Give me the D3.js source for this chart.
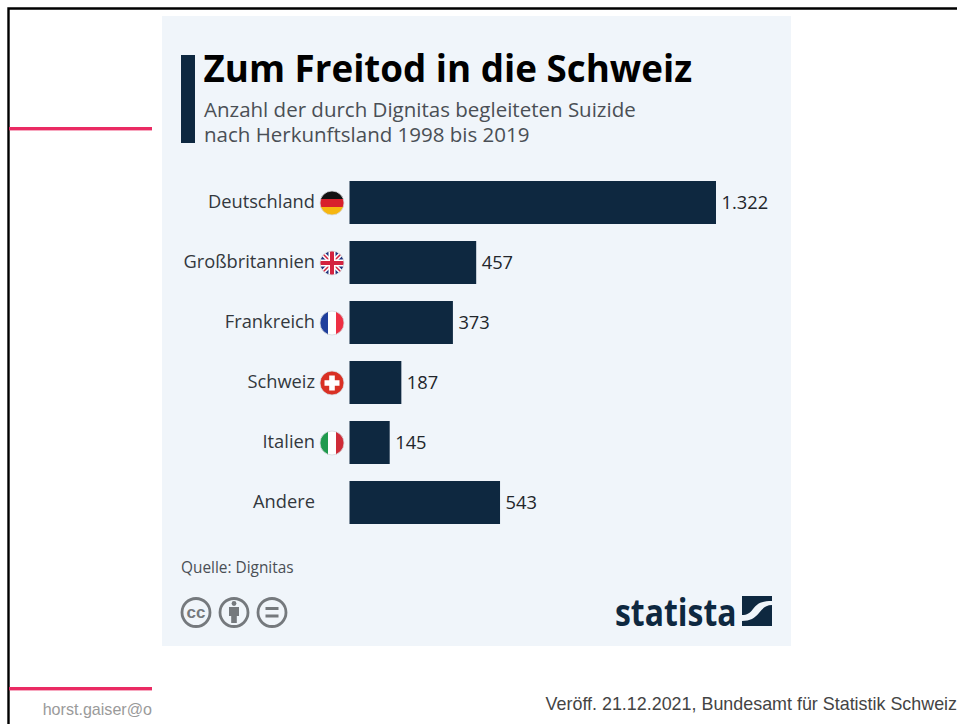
<!DOCTYPE html>
<html lang="de">
<head>
<meta charset="utf-8">
<title>Zum Freitod in die Schweiz</title>
<script src="https://cdn.jsdelivr.net/npm/d3@7"></script>
<style>
html,body{margin:0;padding:0;background:#fff;overflow:hidden}
svg{display:block}
text{font-family:"Open Sans",sans-serif}
</style>
</head>
<body>
<svg id="slide" width="957" height="724"></svg>
<script>
// Chart data
const countries = ["Deutschland", "Großbritannien", "Frankreich", "Schweiz", "Italien", "Andere"];
const cases = [1322, 457, 373, 187, 145, 543];
const valueLabels = ["1.322", "457", "373", "187", "145", "543"];
const flagKinds = ["de", "uk", "fr", "ch", "it", null];

const navy = "#0e2840";
const svg = d3.select("#slide");

// Slide frame
svg.append("rect").attr("width", 957).attr("height", 724).attr("fill", "#fff");
svg.append("path").attr("d", "M0,724V0H957")
  .attr("transform", "translate(8.5,8.5)")
  .attr("fill", "none").attr("stroke", "#000").attr("stroke-width", 2.4);
svg.append("rect").attr("x", 9).attr("y", 127).attr("width", 143).attr("height", 3.4).attr("fill", "#ea2a63");
svg.append("rect").attr("x", 9).attr("y", 687).attr("width", 143).attr("height", 3.4).attr("fill", "#ea2a63");
svg.append("text").attr("x", 152).attr("y", 715).attr("text-anchor", "end")
  .style("font-family", "Liberation Sans").style("font-size", "16.1px").attr("fill", "#9a9a9a").text("horst.gaiser@o");
svg.append("text").attr("x", 957).attr("y", 710).attr("text-anchor", "end")
  .style("font-family", "Liberation Sans").style("font-size", "17.9px").attr("fill", "#444").text("Veröff. 21.12.2021, Bundesamt für Statistik Schweiz");

// Card
svg.append("rect").attr("x", 162).attr("y", 16).attr("width", 629).attr("height", 630).attr("fill", "#f0f5fa");

// Heading
svg.append("rect").attr("x", 181).attr("y", 55).attr("width", 14).attr("height", 88).attr("fill", navy);
svg.append("text").attr("x", 203.5).attr("y", 81.5).style("font-size", "36.75px").style("font-weight", 700)
  .attr("fill", "#000").text("Zum Freitod in die Schweiz");
svg.append("text").attr("x", 204).attr("y", 117).style("font-size", "20.5px").attr("fill", "#4a4f55")
  .text("Anzahl der durch Dignitas begleiteten Suizide");
svg.append("text").attr("x", 204).attr("y", 142).style("font-size", "20.5px").attr("fill", "#4a4f55")
  .text("nach Herkunftsland 1998 bis 2019");

// Scales
const x = d3.scaleLinear().domain([0, 1322]).range([349.5, 716]);
const y = d3.scaleBand().domain(countries).range([181, 524]).paddingInner(17 / 60).paddingOuter(0);
const rows = countries.map((name, i) => ({name, value: cases[i], label: valueLabels[i], flag: flagKinds[i]}));

// Bars and value labels
const row = svg.append("g").selectAll("g").data(rows).join("g");
row.append("rect")
  .attr("x", x(0)).attr("y", d => y(d.name))
  .attr("width", d => x(d.value) - x(0)).attr("height", y.bandwidth())
  .attr("fill", navy);
row.append("text")
  .attr("x", d => x(d.value) + 5.5).attr("y", d => y(d.name) + y.bandwidth() / 2 + 6.5)
  .style("font-size", "18.3px").attr("fill", "#22262b").text(d => d.label);
row.append("text")
  .attr("x", 315).attr("y", d => y(d.name) + y.bandwidth() / 2 + 5.5)
  .attr("text-anchor", "end").style("font-size", "18.3px").attr("fill", "#33383d").text(d => d.name);

// Round flag badges
const defs = svg.append("defs");
defs.append("clipPath").attr("id", "disc").append("circle").attr("r", 12);
const flags = row.filter(d => d.flag).append("g")
  .attr("transform", d => `translate(332,${y(d.name) + y.bandwidth() / 2 + 0.5})`);
const badge = flags.append("g").attr("clip-path", "url(#disc)");
const band = (g, col, a, b, horiz) => g.append("rect")
  .attr("x", horiz ? -12 : a).attr("y", horiz ? a : -12)
  .attr("width", horiz ? 24 : b - a).attr("height", horiz ? b - a : 24).attr("fill", col);
badge.each(function (d) {
  const g = d3.select(this);
  if (d.flag === "de") {
    band(g, "#111", -12, -4, true); band(g, "#d8202c", -4, 4, true); band(g, "#f6b60f", 4, 12, true);
  } else if (d.flag === "fr") {
    band(g, "#1f3f9c", -12, -4, false); band(g, "#fff", -4, 4, false); band(g, "#ee2f43", 4, 12, false);
  } else if (d.flag === "it") {
    band(g, "#1f9a4d", -12, -4, false); band(g, "#fff", -4, 4, false); band(g, "#cf2b37", 4, 12, false);
  } else if (d.flag === "ch") {
    g.append("circle").attr("r", 12).attr("fill", "#d93024");
    g.append("path").attr("d", "M-2.8,-7.5H2.8V-2.8H7.5V2.8H2.8V7.5H-2.8V2.8H-7.5V-2.8H-2.8Z").attr("fill", "#fff");
  } else if (d.flag === "uk") {
    g.append("circle").attr("r", 12).attr("fill", "#22357f");
    g.append("path").attr("d", "M-12,-12L12,12M12,-12L-12,12").attr("stroke", "#fff").attr("stroke-width", 4.5);
    g.append("path").attr("d", "M-12,-12L12,12M12,-12L-12,12").attr("stroke", "#d3233f").attr("stroke-width", 1.5);
    g.append("path").attr("d", "M0,-12V12M-12,0H12").attr("stroke", "#fff").attr("stroke-width", 7);
    g.append("path").attr("d", "M0,-12V12M-12,0H12").attr("stroke", "#d3233f").attr("stroke-width", 4);
  }
});
flags.append("circle").attr("r", 12).attr("fill", "none").attr("stroke", "#d5d8dc").attr("stroke-width", 0.8);

// Source line and licence marks
svg.append("text").attr("x", 181).attr("y", 573).style("font-size", "15.4px").attr("fill", "#4a4f55").text("Quelle: Dignitas");
const grey = "#75797d";
const licence = svg.append("g");
[196, 234, 272].forEach(cx => licence.append("circle").attr("cx", cx).attr("cy", 612.5)
  .attr("r", 14).attr("fill", "none").attr("stroke", grey).attr("stroke-width", 2.8));
licence.append("text").attr("x", 196).attr("y", 618).attr("text-anchor", "middle")
  .style("font-family", "Liberation Sans").style("font-size", "17px").style("font-weight", 700).attr("fill", grey).text("cc");
licence.append("circle").attr("cx", 234).attr("cy", 603.5).attr("r", 2.4).attr("fill", grey);
licence.append("path").attr("d", "M229,607H239V616H236.8V623H231.2V616H229Z").attr("fill", grey);
licence.append("path").attr("d", "M265.5,608.5H278.5M265.5,616H278.5").attr("stroke", grey).attr("stroke-width", 3);

// Wordmark and logo
svg.append("text")
  .attr("transform", "translate(615,626) scale(0.84,1)")
  .style("font-size", "38px").style("font-weight", 700).attr("fill", navy).text("statista");
svg.append("path").attr("d", "M742,596H772V601C760,601 757,604 753,609C750,613 747,615 742,615Z").attr("fill", navy);
svg.append("path").attr("d", "M772,605V626H742V621C750,621 755,618 759,613C763,608 766,605 772,605Z").attr("fill", navy);
</script>
</body>
</html>
